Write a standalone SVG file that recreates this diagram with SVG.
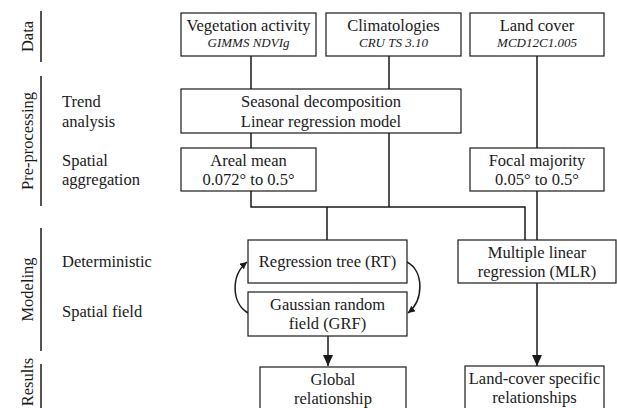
<svg xmlns="http://www.w3.org/2000/svg" width="617" height="408" viewBox="0 0 617 408">
<defs>
<style>
text{font-family:"Liberation Serif","Times New Roman",serif;font-size:16.5px;fill:#1a1a1a}
.c{text-anchor:middle}
.i{font-style:italic;font-size:13px}
.box{fill:#fff;stroke:#1a1a1a;stroke-width:1.2}
.ln{fill:none;stroke:#1a1a1a;stroke-width:1.5}
.bar{stroke:#1a1a1a;stroke-width:1.5}
</style>
<marker id="ah" markerUnits="userSpaceOnUse" markerWidth="12" markerHeight="12" refX="11" refY="5" orient="auto">
<path d="M0,0 L11,5 L0,10 Z" fill="#1a1a1a"/>
</marker>
<marker id="sh" markerUnits="userSpaceOnUse" markerWidth="10" markerHeight="10" refX="7" refY="3.5" orient="auto">
<path d="M0,0 L7,3.5 L0,7 Z" fill="#1a1a1a"/>
</marker>
</defs>
<rect width="617" height="408" fill="#fff"/>

<g id="stages">
<line class="bar" x1="41" y1="11" x2="41" y2="62"/>
<line class="bar" x1="41" y1="76" x2="41" y2="206"/>
<line class="bar" x1="41" y1="228" x2="41" y2="351"/>
<line class="bar" x1="41" y1="364" x2="41" y2="408"/>
<text class="c" transform="translate(33,36.5) rotate(-90)">Data</text>
<text class="c" transform="translate(33,141) rotate(-90)">Pre-processing</text>
<text class="c" transform="translate(33,289.5) rotate(-90)">Modeling</text>
<text class="c" transform="translate(33,382) rotate(-90)">Results</text>
</g>

<g id="row-labels">
<text x="62" y="107">Trend</text>
<text x="62" y="127">analysis</text>
<text x="62" y="166">Spatial</text>
<text x="62" y="185">aggregation</text>
<text x="62" y="267">Deterministic</text>
<text x="62" y="317">Spatial field</text>
</g>

<g id="connectors">
<path class="ln" d="M251,56 V89 M251,133 V148 M251,191 V207 H525 V240 M389,56 V89 M389,133 V207 M327,207 V240 M537,56 V148 M537,191 V240"/>
<path class="ln" d="M328,336 V366" marker-end="url(#ah)"/>
<path class="ln" d="M537,283 V366" marker-end="url(#ah)"/>
<path class="ln" d="M248,313 C232,304 230,276 247,262" marker-end="url(#sh)"/>
<path class="ln" d="M407,262 C424,271 424,300 408,313" marker-end="url(#sh)"/>
</g>

<g id="vegetation">
<rect class="box" x="181" y="13" width="135" height="43"/>
<text class="c" x="248.5" y="31">Vegetation activity</text>
<text class="c i" x="248.5" y="47">GIMMS NDVIg</text>
</g>
<g id="climatologies">
<rect class="box" x="326" y="13" width="135" height="43"/>
<text class="c" x="393.5" y="31">Climatologies</text>
<text class="c i" x="393.5" y="47">CRU TS 3.10</text>
</g>
<g id="landcover">
<rect class="box" x="470" y="13" width="134" height="43"/>
<text class="c" x="537" y="31">Land cover</text>
<text class="c i" x="537" y="47">MCD12C1.005</text>
</g>
<g id="trend">
<rect class="box" x="181" y="89" width="280" height="44"/>
<text class="c" x="321" y="107">Seasonal decomposition</text>
<text class="c" x="321" y="127">Linear regression model</text>
</g>
<g id="areal">
<rect class="box" x="181" y="148" width="135" height="43"/>
<text class="c" x="248.5" y="166">Areal mean</text>
<text class="c" x="248.5" y="185">0.072° to 0.5°</text>
</g>
<g id="focal">
<rect class="box" x="470" y="148" width="134" height="43"/>
<text class="c" x="537" y="166">Focal majority</text>
<text class="c" x="537" y="185">0.05° to 0.5°</text>
</g>
<g id="rt">
<rect class="box" x="248" y="240" width="159" height="43"/>
<text class="c" x="327.5" y="267">Regression tree (RT)</text>
</g>
<g id="grf">
<rect class="box" x="248" y="292" width="159" height="44"/>
<text class="c" x="327.5" y="310">Gaussian random</text>
<text class="c" x="327.5" y="329">field (GRF)</text>
</g>
<g id="mlr">
<rect class="box" x="458" y="240" width="158" height="43"/>
<text class="c" x="537" y="258">Multiple linear</text>
<text class="c" x="537" y="277">regression (MLR)</text>
</g>
<g id="global">
<rect class="box" x="260" y="367" width="146" height="50"/>
<text class="c" x="333" y="385">Global</text>
<text class="c" x="333" y="404">relationship</text>
</g>
<g id="lcspecific">
<rect class="box" x="465" y="366" width="139" height="50"/>
<text class="c" x="534.5" y="384">Land-cover specific</text>
<text class="c" x="534.5" y="403">relationships</text>
</g>
</svg>
